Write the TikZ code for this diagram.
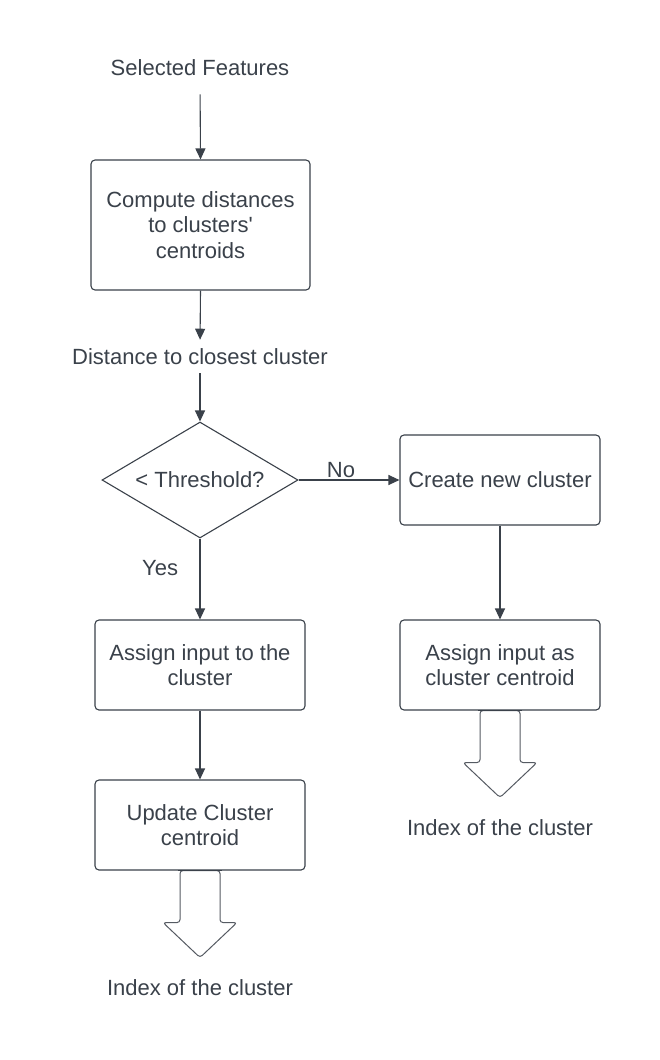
\documentclass[tikz,border=0pt]{standalone}
\usepackage{fontspec}
\setmainfont{Liberation Sans}
\usetikzlibrary{shapes.geometric,arrows.meta}
\definecolor{ink}{RGB}{58,65,74}
\definecolor{blockln}{RGB}{85,90,98}
\newcommand{\straightquote}{\XeTeXglyph\XeTeXcharglyph"0027\relax}
\begin{document}
\begin{tikzpicture}[x=1pt,y=-1pt,
  every node/.style={text=ink,font=\fontsize{22}{25.5}\selectfont},
  procbox/.style={draw=ink,line width=1.1pt,rounded corners=4pt,align=center,fill=white,inner sep=0pt},
  decision/.style={draw=ink,line width=1.1pt,diamond,minimum width=196pt,minimum height=116pt,inner sep=0pt,shape aspect=1.69},
  conn/.style={draw=ink,line width=1.1pt,-{Triangle[length=11pt,width=10pt]}},
  blockarrow/.style={draw=blockln,line width=1pt,rounded corners=3pt,fill=white},
  label/.style={inner sep=3pt}]
\useasboundingbox (0,0) rectangle (660,1060);
\node[label] (sf) at (200,68) {Selected Features};
\node[procbox,minimum width=219pt,minimum height=130pt] (b1) at (200.5,225) {Compute distances\\to clusters\straightquote\\centroids};
\node[label] (dist) at (200,357) {Distance to closest cluster};
\node[decision] (d) at (200,480) {\textless{} Threshold?};
\node[procbox,minimum width=200pt,minimum height=90pt] (bc) at (500,480) {Create new cluster};
\node[procbox,minimum width=210pt,minimum height=90pt] (ba) at (200,665) {Assign input to the\\cluster};
\node[procbox,minimum width=200pt,minimum height=90pt] (bac) at (500,665) {Assign input as\\cluster centroid};
\node[procbox,minimum width=210pt,minimum height=90pt] (bu) at (200,825) {Update Cluster\\centroid};
\node[label] (idx1) at (200,988) {Index of the cluster};
\node[label] (idx2) at (500,828) {Index of the cluster};

\draw[conn,shorten <=15pt] (sf.south) -- (b1.north);
\draw[conn,shorten >=6pt] (b1.south) -- (dist.north);
\draw[conn,shorten <=5pt] (dist.south) -- (d.north);
\draw[conn] (d.east) -- node[pos=0.42,above,inner sep=2pt] {No} (bc.west);
\draw[conn] (d.south) -- node[pos=0.37,left=18pt] {Yes} (ba.north);
\draw[conn] (ba.south) -- (bu.north);
\draw[conn] (bc.south) -- (bac.north);

\draw[blockarrow] ([xshift=-20pt]bu.south) -- ++(0,52) -- ++(-17,0) -- ++(37,35) -- ++(37,-35) -- ++(-17,0) -- ++(0,-52) -- cycle;
\draw[blockarrow] ([xshift=-20pt]bac.south) -- ++(0,52) -- ++(-17,0) -- ++(37,35) -- ++(37,-35) -- ++(-17,0) -- ++(0,-52) -- cycle;
\draw[draw=ink,line width=1.1pt] ([xshift=-22pt]bu.south) -- ([xshift=22pt]bu.south);
\draw[draw=ink,line width=1.1pt] ([xshift=-22pt]bac.south) -- ([xshift=22pt]bac.south);
\end{tikzpicture}
\end{document}
